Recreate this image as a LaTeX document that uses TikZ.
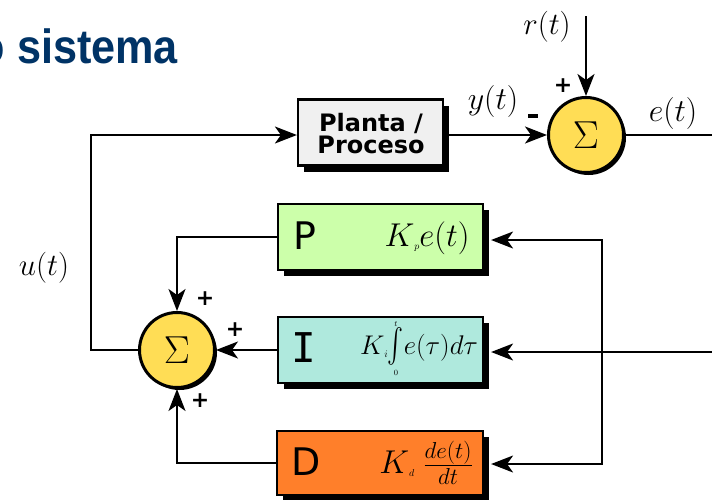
\RequirePackage{fix-cm}
\documentclass[tikz,border=0pt]{standalone}
\usepackage{graphicx}
\usepackage{fontspec}
\setmainfont{DejaVu Sans}
\newfontfamily\titlefont{Liberation Sans}
\newfontfamily\letterfont{DejaVu Sans}
\newfontfamily\ifont{DejaVu Sans Mono}
\usetikzlibrary{arrows.meta,shadows}
\definecolor{titleblue}{RGB}{0,51,102}
\definecolor{plantgray}{RGB}{240,240,240}
\definecolor{pgreen}{RGB}{204,255,170}
\definecolor{iteal}{RGB}{175,233,221}
\definecolor{dorange}{RGB}{255,127,42}
\definecolor{sumyellow}{RGB}{255,221,85}
\newcommand\tsub[1]{\raisebox{-3pt}{\fontsize{10}{10}\selectfont$#1$}}
\newcommand\bigint{\mathop{\vcenter{\hbox{\scalebox{2.4}[3.4]{$\int$}}}}\limits_{\raisebox{1pt}{\fontsize{8}{8}\selectfont$0$}}^{\raisebox{-1pt}{\fontsize{8}{8}\selectfont$t$}}}
\begin{document}
\begin{tikzpicture}[x=1pt,y=-1pt,
  conn/.style={line width=1.8pt, draw=black},
  arr/.style={conn,-{Stealth[length=22pt,width=17pt,inset=6pt]}},
  blockbox/.style={draw, line width=2.2pt, inner sep=0pt,
    drop shadow={shadow xshift=6pt, shadow yshift=-6pt, fill=black, opacity=1}},
  sumnode/.style={circle, draw, line width=3pt, fill=sumyellow, minimum size=75pt, inner sep=0pt,
    drop shadow={shadow xshift=2.5pt, shadow yshift=-2.5pt, fill=black, opacity=1}},
  mlabel/.style={inner sep=0pt, font=\fontsize{32}{32}\selectfont},
  blabel/.style={inner sep=0pt, font=\fontsize{33}{33}\selectfont},
  slabel/.style={inner sep=0pt, font=\fontsize{31}{31}\selectfont},
  sign/.style={inner sep=0pt, font=\fontsize{22}{22}\selectfont\bfseries},
  letter/.style={inner sep=0pt, font=\fontsize{38}{38}\selectfont\letterfont},
]
\useasboundingbox[fill=white] (0,0) rectangle (712,499);

% title
\node[anchor=base west, inner sep=0pt, text=titleblue, font=\fontsize{48}{48}\selectfont\titlefont\bfseries, xscale=0.9] (title) at (-21.4,63) {o sistema};

% blocks
\node[blockbox, fill=plantgray, minimum width=145pt, minimum height=66pt] (plant) at (370.5,132.5) {};
\node[inner sep=0pt, align=center, font=\fontsize{24}{22}\selectfont\bfseries] (planttxt) at (371,134) {Planta /\\Proceso};

\node[blockbox, fill=pgreen, minimum width=205pt, minimum height=66pt] (P) at (380.5,237) {};
\node[blockbox, fill=iteal, minimum width=205pt, minimum height=66pt] (I) at (380.5,350) {};
\node[blockbox, fill=dorange, minimum width=206pt, minimum height=64pt] (D) at (380,463) {};

\node[letter] (Pl) at (305,236) {P};
\node[inner sep=0pt, font=\fontsize{41}{41}\selectfont\ifont] (Il) at (304,348) {I};
\node[letter] (Dl) at (306,462) {D};

\node[blabel] (Pf) at (427,238) {$K\tsub{p}e(t)$};
\node[inner sep=0pt, font=\fontsize{27}{27}\selectfont] (If) at (419,349) {$K\tsub{i}\!\bigint\! e(\tau)d\tau$};
\node[blabel] (Df) at (426,463) {$K\tsub{d}\;\frac{de(t)}{dt}$};

% summing junctions
\node[sumnode] (sumT) at (586,135) {\fontsize{39}{39}\selectfont$\Sigma$};
\node[sumnode] (sumL) at (177,350) {\fontsize{39}{39}\selectfont$\Sigma$};

% coordinates
\coordinate (rIn) at (586,16);
\coordinate (eOut) at (712,135);
\coordinate (eIn) at (712,352);
\coordinate (jP) at (602,240);
\coordinate (jD) at (602,464);
\coordinate (lc) at (91,350);

% connectors
\draw[arr] (rIn) -- (sumT.north);
\draw[arr] (plant.east |- sumT.west) -- (sumT.west);
\draw[conn] (sumT.east) -- (eOut);
\draw[arr] (eIn) -- ([xshift=7pt]I.east |- eIn);
\draw[conn, {Stealth[length=22pt,width=17pt,inset=6pt]}-{Stealth[length=22pt,width=17pt,inset=6pt]}]
  ([xshift=7pt]P.east |- jP) -- (jP) -- (jD) -- ([xshift=7pt]D.east |- jD);
\draw[arr] (P.west) -| (sumL.north);
\draw[arr] (I.west) -- (sumL.east);
\draw[arr] (D.west) -| (sumL.south);
\draw[arr] (sumL.west) -- (lc) |- (plant.west |- sumT.west);

% labels
\node[slabel] (rl) at (547,27) {$r(t)$};
\node[mlabel] (yl) at (493,101) {$y(t)$};
\node[mlabel] (el) at (673,113) {$e(t)$};
\node[slabel] (ul) at (44,268) {$u(t)$};
\node[sign] (s1) at (563,86) {+};
\node[inner sep=0pt] (s2) at (533,116) {\rule{10pt}{3.5pt}};
\node[sign] (s3) at (205,299) {+};
\node[sign] (s4) at (235,330) {+};
\node[sign] (s5) at (200,401) {+};
\end{tikzpicture}
\end{document}
